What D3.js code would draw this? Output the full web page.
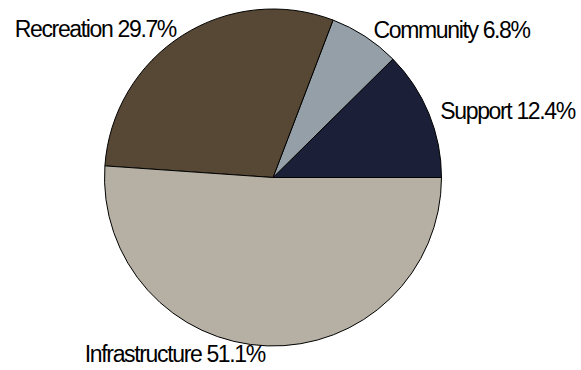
<!DOCTYPE html>
<html>
<head>
<meta charset="utf-8">
<script src="https://cdn.jsdelivr.net/npm/d3@7"></script>
<style>
  html, body { margin: 0; padding: 0; background: #ffffff; }
  svg { display: block; }
  .label { font-family: "Liberation Sans", Arial, sans-serif; font-size: 23px; letter-spacing: -1.35px; fill: #000; }
</style>
</head>
<body>
<svg id="chart" width="581" height="370"></svg>
<script>
// Budget share by category
const categories = ["Support", "Community", "Recreation", "Infrastructure"];
const shares = [12.4, 6.8, 29.7, 51.1];
const colors = ["#1b2038", "#959fa8", "#574835", "#b5b0a3"];

const width = 581, height = 370;
const cx = 273, cy = 177.5, radius = 168.5, labelRadius = 176.5;

const data = categories.map((c, i) => ({ category: c, value: shares[i], color: colors[i] }));

const svg = d3.select("#chart");
const g = svg.append("g").attr("transform", `translate(${cx},${cy})`);

// Slices start at 3 o'clock and run counter-clockwise
const pie = d3.pie()
  .sort(null)
  .value(d => d.value)
  .startAngle(Math.PI / 2)
  .endAngle(Math.PI / 2 - 2 * Math.PI);

const arc = d3.arc().innerRadius(0).outerRadius(radius);
const labelArc = d3.arc().innerRadius(labelRadius).outerRadius(labelRadius);

const arcs = pie(data);

g.selectAll("path.slice")
  .data(arcs)
  .join("path")
  .attr("class", "slice")
  .attr("d", arc)
  .attr("fill", d => d.data.color)
  .attr("stroke", "#000")
  .attr("stroke-width", 1)
  .attr("stroke-linejoin", "round");

g.selectAll("text.label")
  .data(arcs)
  .join("text")
  .attr("class", "label")
  .each(function (d) {
    const [x, y] = labelArc.centroid(d);
    const right = x > 0;
    d3.select(this)
      .attr("x", right ? x + 4 : x - 2)
      .attr("y", y)
      .attr("dy", "0.36em")
      .attr("text-anchor", right ? "start" : "end")
      .text(`${d.data.category} ${d.data.value.toFixed(1)}%`);
  });
</script>
</body>
</html>
